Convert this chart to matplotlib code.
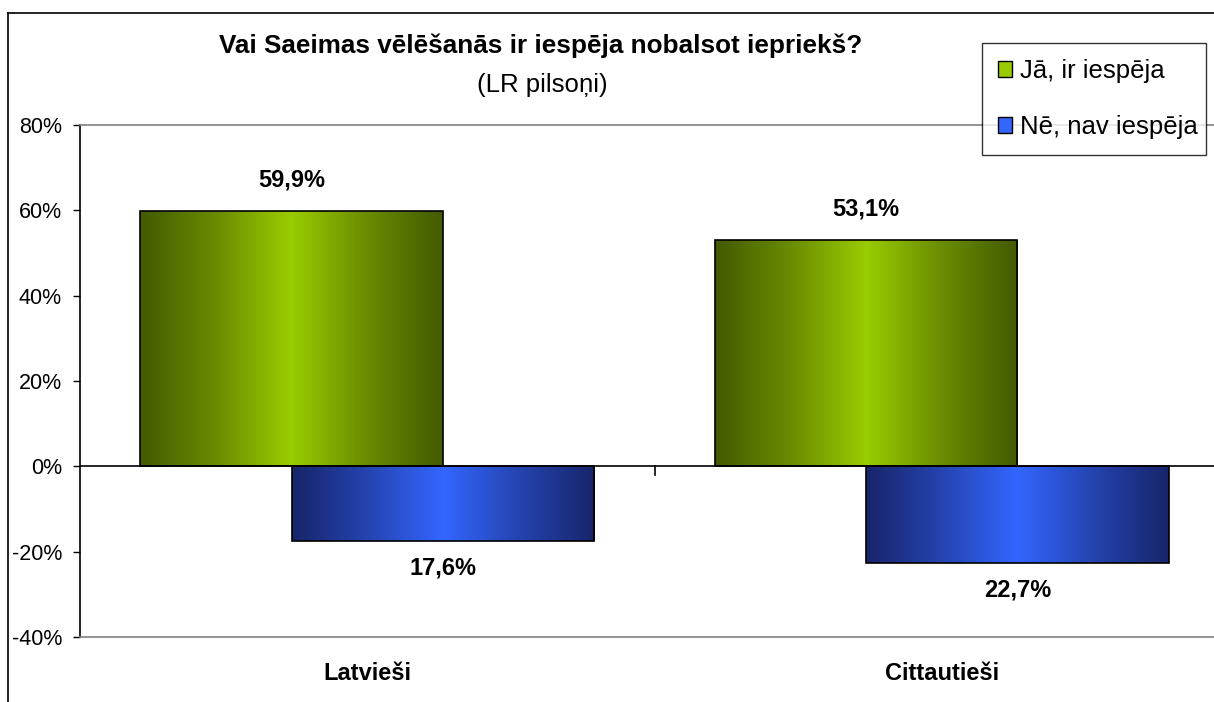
import numpy as np
import matplotlib
matplotlib.use("Agg")
import matplotlib.pyplot as plt
from matplotlib.patches import Patch
from matplotlib.lines import Line2D
from matplotlib.colors import LinearSegmentedColormap
import matplotlib.transforms as mtransforms

plt.rcParams['font.family'] = ['Liberation Sans', 'DejaVu Sans']

categories = ['Latvieši', 'Cittautieši']
yes_values = [59.9, 53.1]
no_values = [17.6, 22.7]
series_names = ['Jā, ir iespēja', 'Nē, nav iespēja']
y_ticks = [-40, -20, 0, 20, 40, 60, 80]
title = 'Vai Saeimas vēlēšanās ir iespēja nobalsot iepriekš?'
subtitle = '(LR pilsoņi)'

W, H = 1214, 702
fig = plt.figure(figsize=(W / 100, H / 100), dpi=100)
ax = fig.add_axes([80 / W, (H - 637) / H, (1229 - 80) / W, (637 - 125) / H])

green_cmap = LinearSegmentedColormap.from_list('g', ['#435a00', '#6a8c00', '#99cc00', '#6a8c00', '#435a00'])
blue_cmap = LinearSegmentedColormap.from_list('b', ['#17256a', '#2544b0', '#3366ff', '#2544b0', '#17256a'])

x = np.arange(len(categories))
width = 0.527
off = 0.132
grad = np.linspace(0, 1, 256).reshape(1, -1)

bars_yes = ax.bar(x - off, yes_values, width, facecolor='none', edgecolor='black', linewidth=1.2, zorder=3)
bars_no = ax.bar(x + off, [-v for v in no_values], width, facecolor='none', edgecolor='black', linewidth=1.2, zorder=3)

for bars, cmap in ((bars_yes, green_cmap), (bars_no, blue_cmap)):
    for b in bars:
        x0, y0 = b.get_x(), b.get_y()
        w, h = b.get_width(), b.get_height()
        im = ax.imshow(grad, cmap=cmap, extent=[x0, x0 + w, min(y0, y0 + h), max(y0, y0 + h)],
                       aspect='auto', zorder=2, interpolation='bilinear')
        im.set_clip_path(b)

ax.set_xlim(-0.5, len(categories) - 0.5)
ax.set_ylim(-40, 80)
ax.set_yticks(y_ticks)
ax.set_yticklabels([f'{t}%' for t in y_ticks], fontsize=15.5)
ax.tick_params(axis='y', direction='out', length=5, width=1, pad=8, colors='black')
ax.set_xticks([])

for s in ('top', 'bottom'):
    ax.spines[s].set_color('#808080')
    ax.spines[s].set_linewidth(1.2)
ax.spines['right'].set_visible(False)
ax.spines['left'].set_color('black')
ax.spines['left'].set_linewidth(1.2)

# zero axis with category boundary ticks
ax.axhline(0, color='black', linewidth=1.2, zorder=4)
for b in np.arange(0.5, len(categories) - 0.5, 1.0):
    ax.plot([b, b], [0, -2.0], color='black', linewidth=1.2, zorder=4, clip_on=False)

for b, v in zip(bars_yes, yes_values):
    ax.annotate(f'{v:.1f}%'.replace('.', ','), (b.get_x() + b.get_width() / 2, v),
                xytext=(0, 22), textcoords='offset points', ha='center', va='center',
                fontsize=17, fontweight='bold', zorder=5)
for b, v in zip(bars_no, no_values):
    ax.annotate(f'{v:.1f}%'.replace('.', ','), (b.get_x() + b.get_width() / 2, -v),
                xytext=(0, -19), textcoords='offset points', ha='center', va='center',
                fontsize=17, fontweight='bold', zorder=5)

blend = mtransforms.blended_transform_factory(ax.transData, fig.transFigure)
for xi, c in zip(x, categories):
    ax.text(xi, 1 - 673 / H, c, transform=blend, ha='center', va='center',
            fontsize=17, fontweight='bold')

fig.text(541 / W, 1 - 53 / H, title, ha='center', va='baseline', fontsize=18.8, fontweight='bold')
fig.text(542 / W, 1 - 92 / H, subtitle, ha='center', va='baseline', fontsize=18.5)

handles = [Patch(facecolor='#99cc00', edgecolor='black', linewidth=1),
           Patch(facecolor='#3366ff', edgecolor='black', linewidth=1)]
leg = fig.legend(handles, series_names, loc='upper left',
                 bbox_to_anchor=(982 / W, (H - 153) / H, 224 / W, 110 / H), mode='expand',
                 borderaxespad=0, fontsize=18.5, frameon=True, fancybox=False,
                 handlelength=0.55, handleheight=0.55, handletextpad=0.3,
                 labelspacing=1.25, borderpad=0.62)
leg.get_frame().set_edgecolor('black')
leg.get_frame().set_linewidth(1)
leg.set_zorder(10)

# chart frame (top and left edges visible)
fig.add_artist(Line2D([8 / W, 1.01], [1 - 13 / H, 1 - 13 / H], color='black', linewidth=1.2,
                      transform=fig.transFigure))
fig.add_artist(Line2D([8 / W, 8 / W], [1 - 13 / H, -0.01], color='black', linewidth=1.2,
                      transform=fig.transFigure))

fig.savefig('out.png', dpi=100)
